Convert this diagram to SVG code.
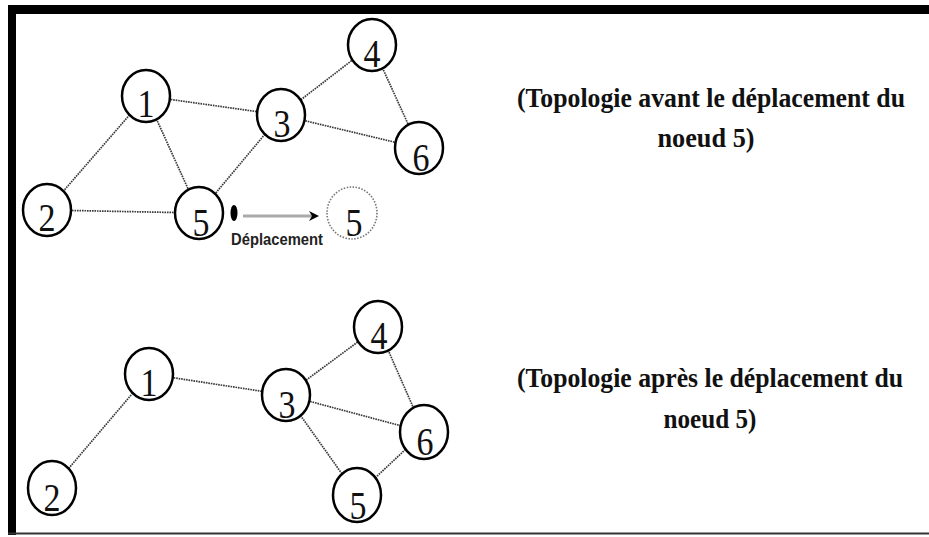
<svg xmlns="http://www.w3.org/2000/svg" width="929" height="537" viewBox="0 0 929 537">
  <style>
    .node ellipse { fill: #fff; stroke: #000; stroke-width: 2.5; }
    .node text { font-family: "Liberation Serif", "Times New Roman", serif; font-size: 40px; fill: #111; text-anchor: middle; }
    .ghost ellipse { fill: #fff; stroke: #777; stroke-width: 1.6; stroke-dasharray: 1.5 1.5; }
    .edges line { stroke: #3a3a3a; stroke-width: 1.7; stroke-dasharray: 1.6 0.9; }
    .caption { font-family: "Liberation Serif", "Times New Roman", serif; font-weight: bold; font-size: 27px; fill: #111; text-anchor: middle; }
    .move { font-family: "Liberation Sans", Arial, sans-serif; font-weight: bold; font-size: 17px; fill: #222; }
  </style>

  <!-- frame -->
  <rect x="0" y="0" width="929" height="537" fill="#fff"/>
  <rect x="8" y="5" width="921" height="9" fill="#000"/>
  <rect x="8" y="5" width="8" height="530" fill="#000"/>
  <line x1="8" y1="533.5" x2="929" y2="533.5" stroke="#333" stroke-width="2"/>

  <!-- before the move -->
  <g class="edges" id="edges-before">
    <line x1="146" y1="96" x2="47" y2="210"/>
    <line x1="146" y1="96" x2="281" y2="115"/>
    <line x1="146" y1="96" x2="199" y2="213"/>
    <line x1="47" y1="210" x2="199" y2="213"/>
    <line x1="281" y1="115" x2="199" y2="213"/>
    <line x1="281" y1="115" x2="372" y2="45"/>
    <line x1="281" y1="115" x2="419" y2="148"/>
    <line x1="372" y1="45" x2="419" y2="148"/>
  </g>

  <g class="node" id="before-n1"><ellipse cx="146" cy="96" rx="24" ry="26"/><text x="146" y="117" textLength="17" lengthAdjust="spacingAndGlyphs">1</text></g>
  <g class="node" id="before-n2"><ellipse cx="47" cy="210" rx="24" ry="26"/><text x="47" y="231" textLength="17" lengthAdjust="spacingAndGlyphs">2</text></g>
  <g class="node" id="before-n3"><ellipse cx="281" cy="115" rx="24" ry="26"/><text x="282" y="137" textLength="17" lengthAdjust="spacingAndGlyphs">3</text></g>
  <g class="node" id="before-n4"><ellipse cx="372" cy="45" rx="24" ry="26"/><text x="372" y="67" textLength="17" lengthAdjust="spacingAndGlyphs">4</text></g>
  <g class="node" id="before-n5"><ellipse cx="199" cy="213" rx="24" ry="26"/><text x="201" y="236" textLength="17" lengthAdjust="spacingAndGlyphs">5</text></g>
  <g class="node" id="before-n6"><ellipse cx="419" cy="148" rx="24" ry="26"/><text x="421" y="171" textLength="17" lengthAdjust="spacingAndGlyphs">6</text></g>

  <!-- movement of node 5 -->
  <g id="move">
    <ellipse cx="234" cy="213" rx="3.5" ry="8" fill="#000"/>
    <line x1="243" y1="216" x2="313" y2="216" stroke="#aaa" stroke-width="3"/>
    <path d="M309 211 L319 216 L309 221 L312 216 Z" fill="#000"/>
    <text class="move" x="231" y="245" textLength="92" lengthAdjust="spacingAndGlyphs">Déplacement</text>
  </g>
  <g class="node ghost" id="before-n5-target"><ellipse cx="352" cy="213" rx="25" ry="26"/><text x="354" y="236" textLength="17" lengthAdjust="spacingAndGlyphs">5</text></g>

  <text class="caption" x="711" y="107" textLength="388" lengthAdjust="spacingAndGlyphs">(Topologie avant le déplacement du</text>
  <text class="caption" x="706" y="147" textLength="97" lengthAdjust="spacingAndGlyphs">noeud 5)</text>

  <!-- after the move -->
  <g class="edges" id="edges-after">
    <line x1="149" y1="374" x2="52" y2="488"/>
    <line x1="149" y1="374" x2="286" y2="395"/>
    <line x1="286" y1="395" x2="378" y2="327"/>
    <line x1="286" y1="395" x2="424" y2="432"/>
    <line x1="286" y1="395" x2="357" y2="495"/>
    <line x1="378" y1="327" x2="424" y2="432"/>
    <line x1="357" y1="495" x2="424" y2="432"/>
  </g>

  <g class="node" id="after-n1"><ellipse cx="149" cy="374" rx="24" ry="26"/><text x="149" y="396" textLength="17" lengthAdjust="spacingAndGlyphs">1</text></g>
  <g class="node" id="after-n2"><ellipse cx="52" cy="488" rx="24" ry="27"/><text x="52" y="511" textLength="17" lengthAdjust="spacingAndGlyphs">2</text></g>
  <g class="node" id="after-n3"><ellipse cx="286" cy="395" rx="24" ry="26"/><text x="287" y="418" textLength="17" lengthAdjust="spacingAndGlyphs">3</text></g>
  <g class="node" id="after-n4"><ellipse cx="378" cy="327" rx="24" ry="26"/><text x="379" y="349" textLength="17" lengthAdjust="spacingAndGlyphs">4</text></g>
  <g class="node" id="after-n5"><ellipse cx="357" cy="495" rx="24" ry="27"/><text x="358" y="519" textLength="17" lengthAdjust="spacingAndGlyphs">5</text></g>
  <g class="node" id="after-n6"><ellipse cx="424" cy="432" rx="24" ry="27"/><text x="425" y="455" textLength="17" lengthAdjust="spacingAndGlyphs">6</text></g>

  <text class="caption" x="710" y="387" textLength="386" lengthAdjust="spacingAndGlyphs">(Topologie après le déplacement du</text>
  <text class="caption" x="710" y="428" textLength="93" lengthAdjust="spacingAndGlyphs">noeud 5)</text>
</svg>
